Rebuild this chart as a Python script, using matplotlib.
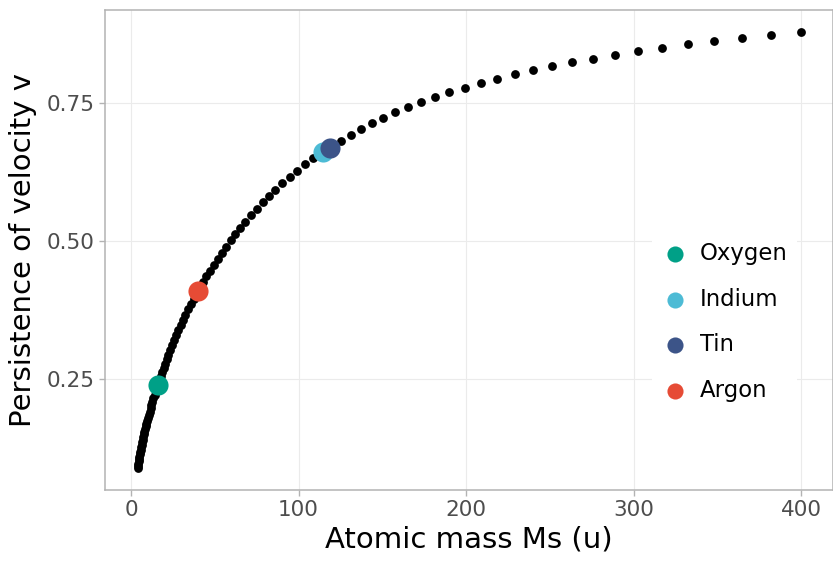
import matplotlib
matplotlib.use("Agg")
import matplotlib.pyplot as plt

# DATA ==================================================================================
# atomic mass of sputtered atom (u), log spaced from 4 to 400
mass = [4.000, 4.190, 4.390, 4.599, 4.818, 5.047, 5.288, 5.540, 5.803, 6.080,
        6.369, 6.672, 6.990, 7.323, 7.672, 8.037, 8.420, 8.821, 9.241, 9.681,
        10.142, 10.624, 11.130, 11.660, 12.215, 12.797, 13.406, 14.045, 14.714, 15.414,
        16.148, 16.917, 17.723, 18.566, 19.451, 20.377, 21.347, 22.363, 23.428, 24.544,
        25.712, 26.936, 28.219, 29.563, 30.970, 32.445, 33.990, 35.608, 37.304, 39.080,
        40.941, 42.890, 44.933, 47.072, 49.313, 51.661, 54.121, 56.698, 59.398, 62.226,
        65.189, 68.293, 71.545, 74.952, 78.521, 82.259, 86.176, 90.280, 94.579, 99.082,
        103.800, 108.742, 113.919, 119.344, 125.026, 130.980, 137.216, 143.750, 150.595, 157.766,
        165.278, 173.147, 181.391, 190.028, 199.077, 208.556, 218.487, 228.890, 239.789, 251.207,
        263.168, 275.698, 288.826, 302.579, 316.986, 332.080, 347.893, 364.458, 381.812, 400.000]

persistence = [0.0890, 0.0929, 0.0969, 0.1010, 0.1051, 0.1093, 0.1135, 0.1178, 0.1221, 0.1265,
               0.1310, 0.1355, 0.1401, 0.1448, 0.1495, 0.1543, 0.1591, 0.1641, 0.1693, 0.1745,
               0.1799, 0.1855, 0.1911, 0.1969, 0.2029, 0.2089, 0.2151, 0.2215, 0.2279, 0.2345,
               0.2413, 0.2482, 0.2553, 0.2627, 0.2702, 0.2780, 0.2860, 0.2943, 0.3027, 0.3114,
               0.3203, 0.3293, 0.3385, 0.3478, 0.3571, 0.3666, 0.3762, 0.3859, 0.3957, 0.4056,
               0.4156, 0.4257, 0.4360, 0.4465, 0.4571, 0.4679, 0.4788, 0.4899, 0.5011, 0.5124,
               0.5238, 0.5353, 0.5468, 0.5583, 0.5700, 0.5816, 0.5933, 0.6049, 0.6163, 0.6275,
               0.6386, 0.6496, 0.6605, 0.6713, 0.6820, 0.6927, 0.7032, 0.7134, 0.7234, 0.7331,
               0.7425, 0.7516, 0.7605, 0.7692, 0.7777, 0.7860, 0.7940, 0.8018, 0.8093, 0.8166,
               0.8237, 0.8306, 0.8373, 0.8438, 0.8500, 0.8560, 0.8618, 0.8674, 0.8728, 0.8780]

elements   = ['Oxygen', 'Indium', 'Tin', 'Argon']
elem_mass  = [16.0, 114.8, 118.7, 39.95]
elem_pers  = [0.240, 0.662, 0.669, 0.410]
elem_color = ['#00A087', '#4DBBD5', '#3C5488', '#E64B35']

xticks = [0, 100, 200, 300, 400]
yticks = [0.25, 0.50, 0.75]

# PLOTTING ==============================================================================
fig = plt.figure(figsize=(8.33, 5.67), dpi=100)
ax = fig.add_axes([104.7/833, 77/567, (833-104.7)/833, 480/567])

ax.scatter(mass, persistence, s=40, color='black', linewidths=0, zorder=3)
for name, m, p, c in zip(elements, elem_mass, elem_pers, elem_color):
    ax.scatter([m], [p], s=210, color=c, linewidths=0, label=name, zorder=4)

ax.set_xlim(-15.7, 418.9)
ax.set_ylim(0.0489, 0.9185)
ax.set_xticks(xticks)
ax.set_yticks(yticks)
ax.set_yticklabels(['%.2f' % v for v in yticks])

ax.grid(True, color='#EBEBEB', linewidth=0.8, zorder=0)
ax.set_axisbelow(True)
for sp in ax.spines.values():
    sp.set_color('#B3B3B3')
    sp.set_linewidth(1.1)
ax.tick_params(axis='both', colors='#B3B3B3', length=4, width=1.0,
               labelsize=15.5, labelcolor='#4D4D4D', pad=3)

ax.set_xlabel('Atomic mass Ms (u)', fontsize=21, labelpad=4)
ax.set_ylabel('Persistence of velocity v', fontsize=21, labelpad=7)

leg = ax.legend(loc='center left', bbox_to_anchor=(0.7515, 0.35), borderaxespad=0,
                frameon=True, fontsize=16.4, handlelength=1.2, handletextpad=0.5,
                labelspacing=1.0, borderpad=0.4, markerscale=0.8)
leg.get_frame().set_facecolor('white')
leg.get_frame().set_edgecolor('none')
leg.get_frame().set_alpha(1.0)

fig.savefig('out.png', dpi=100)
